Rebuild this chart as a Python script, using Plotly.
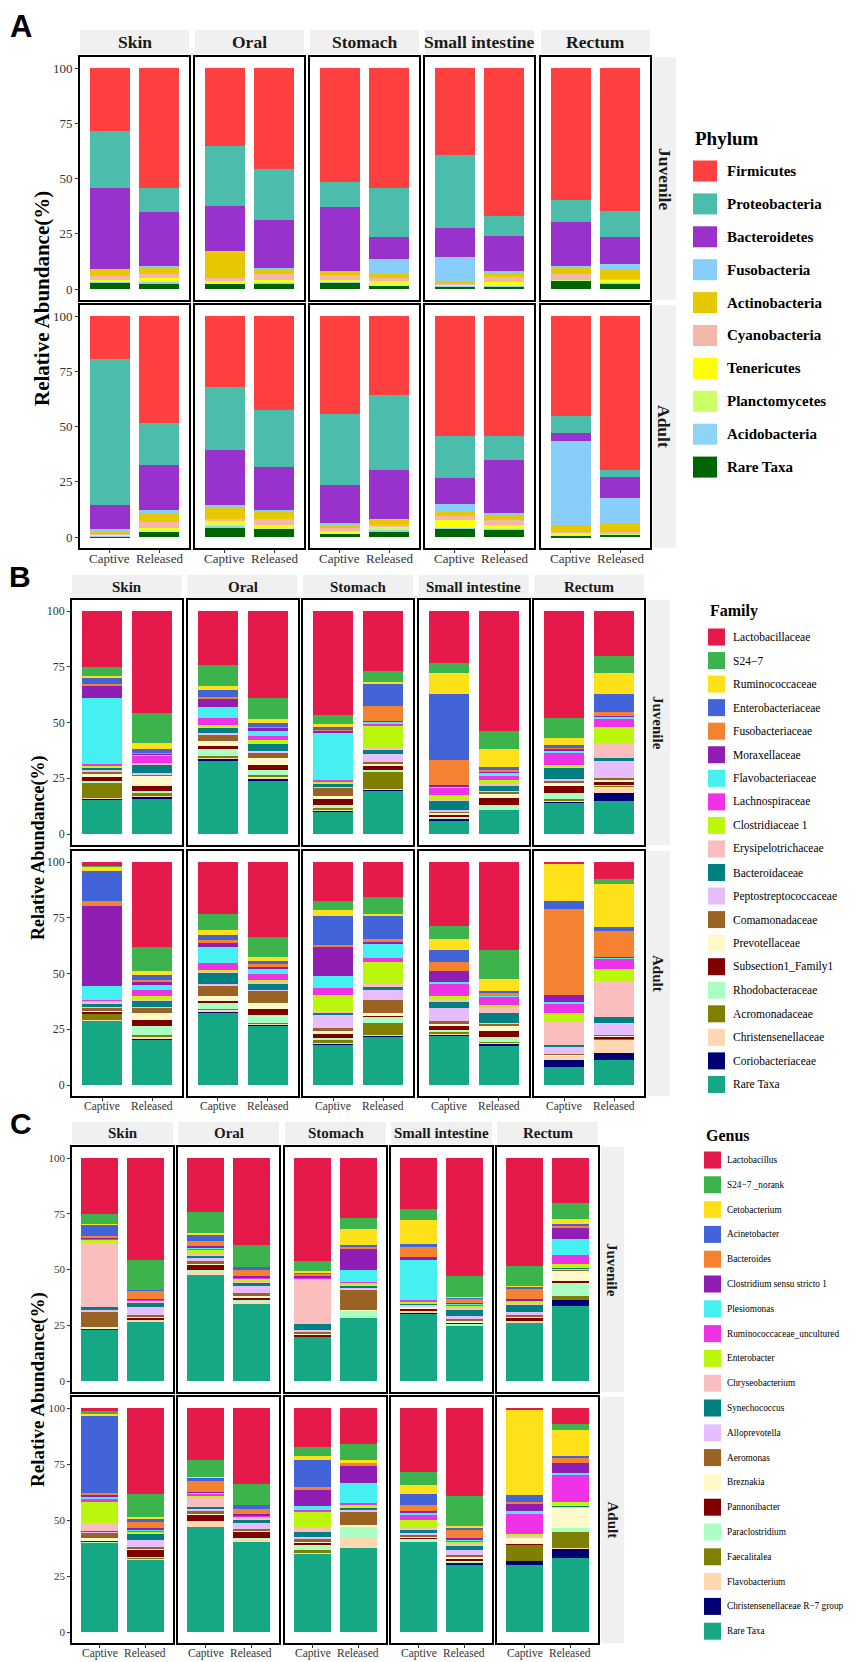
import plotly.graph_objects as go

# page geometry (the browser adds an 8 px body margin, the figure is shifted by it)
PAGE_W, PAGE_H = 854, 1662
OFF = 8
W, H = PAGE_W - OFF, PAGE_H - OFF
SERIF = "Liberation Serif, Times New Roman, serif"
SANS = "Liberation Sans, Arial, sans-serif"

organs = ["Skin", "Oral", "Stomach", "Small intestine", "Rectum"]
organ_keys = ["Skin", "Oral", "Stom", "SI", "Rect"]
groups = ["Captive", "Released"]
stages = ["Juvenile", "Adult"]
stage_keys = ["J", "A"]
y_ticks = [0, 25, 50, 75, 100]

# ---------------- Panel A : Phylum ----------------
phylum_taxa = ["Firmicutes", "Proteobacteria", "Bacteroidetes", "Fusobacteria", "Actinobacteria",
               "Cyanobacteria", "Tenericutes", "Planctomycetes", "Acidobacteria", "Rare Taxa"]
phylum_colors = ["#FF4040", "#4CBCAB", "#9932CC", "#87CEFA", "#E6C800",
                 "#F5B8A8", "#FFFF00", "#CCFF66", "#8FD3F7", "#006400"]

phy_J_Skin_C = [28.7, 25.5, 36.6, 0.3, 3.1, 1.8, 0.3, 0.4, 0.3, 3.0]
phy_J_Skin_R = [54.1, 11.1, 24.4, 0.3, 3.4, 1.9, 0.8, 0.6, 1.0, 2.4]
phy_J_Oral_C = [35.2, 27.3, 20.2, 0.1, 12.4, 1.3, 0.5, 0.3, 0.3, 2.4]
phy_J_Oral_R = [45.9, 22.9, 21.5, 0.2, 2.8, 2.5, 0.8, 0.5, 0.5, 2.4]
phy_J_Stom_C = [51.5, 11.3, 28.9, 0.0, 2.0, 2.3, 0.5, 0.3, 0.2, 3.0]
phy_J_Stom_R = [54.1, 22.3, 10.0, 7.0, 1.5, 1.5, 1.0, 0.9, 0.3, 1.4]
phy_J_SI_C = [39.5, 32.8, 13.1, 11.0, 1.3, 0.3, 0.5, 0.1, 0.2, 1.2]
phy_J_SI_R = [67.0, 9.0, 15.9, 0.4, 2.1, 2.6, 0.9, 0.5, 0.4, 1.2]
phy_J_Rect_C = [59.7, 10.0, 19.8, 0.3, 3.4, 2.5, 0.1, 0.3, 0.1, 3.8]
phy_J_Rect_R = [64.6, 12.0, 12.1, 2.7, 3.9, 0.5, 1.0, 0.4, 0.2, 2.6]
phy_A_Skin_C = [19.6, 65.8, 11.0, 1.4, 0.8, 0.2, 0.3, 0.4, 0.1, 0.4]
phy_A_Skin_R = [48.2, 19.4, 20.2, 1.2, 4.2, 2.6, 1.0, 0.5, 0.3, 2.4]
phy_A_Oral_C = [31.9, 28.9, 24.7, 0.9, 5.5, 0.6, 1.5, 0.8, 1.0, 4.2]
phy_A_Oral_R = [42.5, 25.9, 19.3, 0.3, 4.0, 2.5, 1.0, 0.5, 0.2, 3.8]
phy_A_Stom_C = [44.3, 32.1, 17.1, 1.3, 1.0, 1.5, 0.9, 0.1, 0.1, 1.6]
phy_A_Stom_R = [35.7, 33.9, 22.3, 0.3, 2.2, 1.2, 0.3, 1.1, 0.6, 2.4]
phy_A_SI_C = [54.5, 18.8, 11.6, 3.8, 2.0, 1.7, 3.4, 0.1, 0.1, 4.0]
phy_A_SI_R = [54.5, 10.6, 24.1, 0.7, 2.4, 2.2, 1.2, 0.4, 0.3, 3.6]
phy_A_Rect_C = [45.2, 7.6, 3.6, 38.2, 3.0, 0.5, 1.0, 0.2, 0.2, 0.5]
phy_A_Rect_R = [69.7, 3.3, 9.2, 11.4, 4.0, 0.7, 0.2, 0.2, 0.2, 1.1]

# ---------------- Panel B : Family ----------------
family_taxa = ["Lactobacillaceae", "S24\u22127", "Ruminococcaceae", "Enterobacteriaceae", "Fusobacteriaceae",
               "Moraxellaceae", "Flavobacteriaceae", "Lachnospiraceae", "Clostridiaceae 1", "Erysipelotrichaceae",
               "Bacteroidaceae", "Peptostreptococcaceae", "Comamonadaceae", "Prevotellaceae", "Subsection1_Family1",
               "Rhodobacteraceae", "Acromonadaceae", "Christensenellaceae", "Coriobacteriaceae", "Rare Taxa"]
palette20 = ["#E6194B", "#3CB44B", "#FFE119", "#4363D8", "#F58231",
             "#911EB4", "#46F0F0", "#F032E6", "#BCF60C", "#FABEBE",
             "#008080", "#E6BEFF", "#9A6324", "#FFFAC8", "#800000",
             "#AAFFC3", "#808000", "#FFD8B1", "#000075", "#16A884"]
family_colors = palette20

fam_J_Skin_C = [24.9, 4.1, 1.2, 2.6, 0.4, 5.9, 29.3, 1.1, 0.2, 0.6, 1.2, 0.6, 1.2, 0.8, 2.1, 0.5, 7.0, 0.5, 0.3, 15.5]
fam_J_Skin_R = [45.8, 13.3, 2.6, 1.9, 0.3, 0.3, 0.5, 3.4, 0.3, 0.5, 3.8, 0.5, 0.9, 4.3, 2.4, 1.0, 1.0, 0.5, 0.5, 16.2]
fam_J_Oral_C = [24.0, 9.5, 2.1, 3.1, 0.5, 3.8, 5.2, 3.0, 0.4, 0.4, 2.5, 0.6, 3.1, 2.4, 1.2, 3.3, 0.9, 0.3, 0.6, 33.1]
fam_J_Oral_R = [38.9, 9.5, 1.7, 1.8, 0.3, 1.7, 2.1, 1.9, 0.8, 0.7, 3.3, 0.5, 2.7, 3.3, 2.2, 2.0, 1.0, 0.8, 1.0, 23.8]
fam_J_Stom_C = [46.7, 4.0, 1.5, 1.0, 0.2, 1.5, 20.7, 1.0, 0.3, 0.4, 1.5, 0.4, 3.8, 1.5, 2.5, 1.5, 0.4, 0.4, 0.5, 10.2]
fam_J_Stom_R = [26.8, 4.9, 1.1, 9.7, 6.9, 0.3, 0.8, 0.8, 10.0, 0.6, 2.1, 3.6, 0.6, 1.2, 1.8, 1.0, 7.6, 0.3, 0.3, 19.6]
fam_J_SI_C = [23.1, 4.6, 9.3, 29.9, 11.2, 0.4, 1.0, 3.0, 2.1, 0.5, 4.2, 0.5, 0.5, 1.2, 1.0, 0.3, 0.2, 0.2, 0.5, 6.3]
fam_J_SI_R = [53.7, 8.3, 7.9, 1.5, 0.3, 0.8, 1.6, 1.6, 1.7, 0.6, 2.6, 0.4, 0.8, 1.9, 3.4, 1.5, 0.1, 0.2, 0.2, 10.9]
fam_J_Rect_C = [48.1, 9.0, 3.1, 1.2, 0.3, 0.8, 1.0, 5.6, 0.5, 1.0, 4.8, 1.0, 0.5, 1.5, 3.3, 2.7, 0.3, 0.5, 0.6, 14.2]
fam_J_Rect_R = [20.0, 7.7, 9.3, 8.2, 1.9, 0.3, 0.6, 3.9, 7.1, 6.7, 1.5, 7.9, 0.3, 1.5, 0.8, 0.5, 0.3, 3.2, 3.4, 14.9]
fam_A_Skin_C = [1.6, 0.2, 2.4, 13.5, 1.9, 36.2, 6.0, 0.3, 0.2, 1.3, 1.5, 0.3, 1.2, 0.3, 0.8, 0.3, 2.7, 0.1, 0.0, 29.2]
fam_A_Skin_R = [38.3, 10.4, 1.9, 2.2, 1.0, 1.3, 2.2, 3.0, 0.8, 1.2, 2.8, 0.3, 2.4, 3.0, 2.7, 4.0, 0.8, 0.6, 0.6, 20.5]
fam_A_Oral_C = [23.2, 7.5, 1.9, 2.6, 1.2, 1.5, 7.2, 3.3, 0.5, 1.0, 4.7, 0.5, 5.2, 2.0, 0.7, 3.0, 0.3, 0.5, 1.0, 32.2]
fam_A_Oral_R = [33.7, 8.7, 1.9, 1.5, 0.8, 1.5, 2.2, 2.5, 0.8, 1.0, 2.7, 0.3, 5.7, 2.7, 2.6, 3.4, 0.3, 0.3, 0.5, 26.9]
fam_A_Stom_C = [17.7, 4.0, 2.4, 13.0, 1.2, 13.0, 5.3, 3.0, 7.0, 1.0, 1.0, 5.7, 1.7, 1.0, 2.0, 1.0, 1.0, 0.3, 0.3, 18.4]
fam_A_Stom_R = [15.9, 7.3, 1.2, 10.2, 1.2, 0.6, 6.6, 1.9, 9.7, 1.5, 1.2, 4.8, 5.7, 0.8, 0.7, 2.7, 5.5, 0.3, 0.5, 21.7]
fam_A_SI_C = [28.6, 6.0, 4.8, 5.5, 3.8, 5.3, 0.6, 5.7, 0.8, 1.5, 3.0, 5.7, 1.2, 0.6, 2.2, 1.0, 0.6, 0.4, 0.5, 22.2]
fam_A_SI_R = [39.4, 13.1, 5.3, 1.0, 0.8, 0.3, 0.3, 3.9, 1.5, 2.2, 4.2, 0.3, 1.2, 2.5, 2.3, 2.2, 0.3, 0.4, 0.8, 18.0]
fam_A_Rect_C = [0.6, 0.2, 16.5, 3.7, 38.8, 2.9, 0.5, 4.7, 3.8, 10.4, 0.6, 3.5, 0.1, 0.2, 0.1, 0.1, 0.1, 1.9, 3.3, 8.0]
fam_A_Rect_R = [7.6, 2.2, 19.4, 1.8, 11.6, 0.2, 0.4, 4.6, 5.5, 16.4, 2.7, 5.2, 0.3, 0.4, 0.6, 0.2, 0.3, 6.1, 3.3, 11.2]

# ---------------- Panel C : Genus ----------------
genus_taxa = ["Lactobacillus", "S24\u22127 _norank", "Cetobacterium", "Acinetobacter", "Bacteroides",
              "Clostridium sensu stricto 1", "Plesiomonas", "Ruminococcaceae_uncultured", "Enterobacter",
              "Chryseobacterium", "Synechococcus", "Alloprevotella", "Aeromonas", "Breznakia", "Pannonibacter",
              "Paraclostridium", "Faecalitalea", "Flavobacterium", "Christensenellaceae R\u22127 group", "Rare Taxa"]
genus_colors = palette20

gen_J_Skin_C = [25.0, 4.5, 0.2, 5.2, 0.8, 0.3, 0.2, 0.5, 1.5, 28.4, 1.5, 1.1, 6.8, 0.3, 0.9, 0.0, 0.0, 0.0, 0.0, 22.8]
gen_J_Skin_R = [45.7, 13.4, 0.0, 0.3, 3.8, 0.2, 0.2, 0.3, 0.5, 0.5, 2.0, 3.5, 0.9, 0.3, 0.6, 0.3, 0.0, 0.6, 0.0, 26.9]
gen_J_Oral_C = [24.3, 9.4, 0.6, 3.0, 2.2, 0.4, 0.6, 0.5, 2.0, 0.6, 1.2, 1.4, 1.3, 0.3, 2.6, 0.3, 0.2, 1.5, 0.0, 47.6]
gen_J_Oral_R = [39.2, 9.8, 0.0, 1.4, 2.7, 0.3, 0.3, 0.2, 1.5, 0.3, 1.9, 3.0, 1.5, 0.3, 1.5, 0.3, 0.2, 0.6, 0.0, 35.0]
gen_J_Stom_C = [46.3, 4.4, 0.5, 0.4, 1.5, 0.3, 0.2, 0.2, 0.4, 20.4, 2.6, 1.0, 0.5, 0.4, 0.8, 0.1, 0.0, 0.1, 0.0, 19.9]
gen_J_Stom_R = [26.8, 5.2, 7.2, 0.2, 1.6, 9.4, 5.0, 0.5, 1.0, 0.3, 1.3, 0.6, 8.9, 0.2, 0.3, 2.9, 0.0, 0.2, 0.0, 28.4]
gen_J_SI_C = [22.8, 4.9, 10.8, 1.2, 4.5, 1.5, 18.2, 0.3, 0.8, 0.3, 0.3, 0.8, 0.3, 0.6, 0.8, 0.6, 0.2, 0.3, 0.3, 30.5]
gen_J_SI_R = [53.1, 9.3, 0.3, 0.3, 2.1, 0.3, 0.4, 0.4, 0.8, 0.7, 3.2, 1.5, 0.6, 0.6, 0.6, 0.3, 0.2, 0.2, 0.0, 25.1]
gen_J_Rect_C = [48.4, 8.9, 0.4, 0.9, 4.8, 0.4, 0.3, 0.4, 0.5, 0.6, 3.3, 1.6, 0.4, 0.4, 1.6, 0.3, 0.2, 0.4, 0.0, 26.2]
gen_J_Rect_R = [20.1, 7.2, 2.4, 0.3, 1.3, 5.2, 6.8, 4.4, 0.8, 0.5, 0.5, 0.6, 0.4, 4.5, 0.8, 6.3, 1.6, 0.0, 2.8, 33.5]
gen_A_Skin_C = [1.5, 1.0, 1.2, 34.1, 1.0, 1.0, 1.0, 1.0, 9.4, 3.6, 0.4, 0.3, 2.7, 0.8, 0.5, 0.3, 0.1, 0.2, 0.0, 39.9]
gen_A_Skin_R = [38.5, 10.0, 1.1, 1.1, 3.0, 0.5, 0.3, 0.4, 0.6, 0.5, 3.0, 2.9, 0.7, 0.5, 3.3, 0.4, 0.1, 1.0, 0.0, 32.1]
gen_A_Oral_C = [23.1, 7.5, 0.4, 1.8, 4.5, 0.3, 0.9, 0.3, 1.5, 3.7, 0.8, 0.7, 1.8, 0.2, 2.8, 0.2, 0.2, 2.3, 0.0, 47.0]
gen_A_Oral_R = [33.9, 9.4, 0.0, 1.9, 2.1, 0.4, 0.3, 0.3, 1.0, 0.3, 1.6, 3.0, 0.6, 0.3, 3.1, 0.3, 0.2, 0.6, 0.0, 40.7]
gen_A_Stom_C = [17.6, 4.0, 1.5, 12.0, 1.5, 7.1, 1.8, 0.8, 7.0, 1.9, 2.3, 1.0, 0.8, 0.8, 1.1, 2.2, 1.2, 0.3, 0.0, 35.1]
gen_A_Stom_R = [16.0, 7.4, 1.2, 0.0, 1.2, 7.8, 8.9, 0.4, 0.8, 1.0, 1.0, 0.5, 6.0, 0.4, 0.4, 4.5, 0.0, 5.2, 0.0, 37.3]
gen_A_SI_C = [28.7, 5.6, 4.1, 4.9, 2.7, 1.0, 0.5, 2.5, 3.7, 0.5, 1.8, 0.5, 0.6, 0.6, 1.0, 0.3, 0.2, 0.2, 0.3, 40.3]
gen_A_SI_R = [39.3, 13.4, 1.0, 0.3, 4.2, 0.5, 0.3, 0.7, 0.8, 0.7, 2.2, 2.3, 0.6, 1.1, 1.0, 0.3, 0.2, 0.2, 1.0, 29.9]
gen_A_Rect_C = [0.7, 0.1, 38.0, 3.2, 0.7, 3.1, 1.6, 9.0, 0.5, 0.3, 0.2, 0.2, 0.2, 2.9, 0.1, 0.2, 7.2, 0.0, 1.7, 30.1]
gen_A_Rect_R = [7.3, 2.7, 11.6, 0.3, 2.6, 4.3, 0.8, 12.4, 1.2, 0.3, 0.5, 0.3, 0.2, 9.0, 0.0, 1.9, 6.9, 0.3, 4.5, 32.9]

# ---------------- layout (pixel geometry, page coordinates) ----------------
panels = [
    dict(prefix="phy", taxa=phylum_taxa, colors=phylum_colors, letter="A", letter_xy=(21, 27), letter_size=31,
         col_x0=[80, 195, 310, 425, 541], col_w=109, rows=[(68, 289), (316, 537)],
         strip_y=(30, 54), strip_size=17.5, ytitle_xy=(42, 299), ytitle_size=21,
         xlab_size=13, ytick_size=13,
         legend=dict(title="Phylum", x=693, title_y=139, y0=171, step=32.9, bw=24, bh=21, tx=725,
                     title_size=19, size=15, bold=True)),
    dict(prefix="fam", taxa=family_taxa, colors=family_colors, letter="B", letter_xy=(20, 577), letter_size=30,
         col_x0=[72, 187.5, 303, 418.5, 534], col_w=110, rows=[(611, 834), (862, 1085)],
         strip_y=(575, 598), strip_size=15, ytitle_xy=(38, 848), ytitle_size=18,
         xlab_size=11.5, ytick_size=12,
         legend=dict(title="Family", x=708, title_y=611, y0=637, step=23.55, bw=17, bh=17, tx=731,
                     title_size=16, size=11.5, bold=False)),
    dict(prefix="gen", taxa=genus_taxa, colors=genus_colors, letter="C", letter_xy=(21, 1123), letter_size=30,
         col_x0=[72, 178, 285, 391, 497], col_w=101, rows=[(1158, 1381), (1408, 1632)],
         strip_y=(1122, 1144), strip_size=15, ytitle_xy=(38, 1390), ytitle_size=19,
         xlab_size=11.5, ytick_size=11,
         legend=dict(title="Genus", x=704, title_y=1135, y0=1160, step=24.8, bw=17, bh=17, tx=725,
                     title_size=16, size=9.3, bold=False)),
]

STRIP_FILL = "#F0F0F0"
fig = go.Figure()
layout = dict(width=W, height=H, margin=dict(l=0, r=0, t=0, b=0), barmode="stack",
              plot_bgcolor="white", paper_bgcolor="white", showlegend=False)
shapes, annotations = [], []


def fx(px):
    return (px - OFF) / W


def fy(py):
    return 1 - (py - OFF) / H


n = 0
for p in panels:
    for r, (y100, y0) in enumerate(p["rows"]):
        unit = (y0 - y100) / 100.0
        top, bot = y100 - 5 * unit, y0 + 5 * unit
        for c, okey in enumerate(organ_keys):
            n += 1
            xa = "x" if n == 1 else f"x{n}"
            ya = "y" if n == 1 else f"y{n}"
            cap = globals()[f"{p['prefix']}_{stage_keys[r]}_{okey}_C"]
            rel = globals()[f"{p['prefix']}_{stage_keys[r]}_{okey}_R"]
            # bottom of the stack first -> reverse legend order
            for i in reversed(range(len(p["taxa"]))):
                fig.add_trace(go.Bar(x=groups, y=[cap[i], rel[i]], width=0.8, name=p["taxa"][i],
                                     marker=dict(color=p["colors"][i], line=dict(width=0)),
                                     xaxis=xa, yaxis=ya, showlegend=False))
            x0 = p["col_x0"][c]
            x1 = x0 + p["col_w"]
            bottom_row = (r == 1)
            first_col = (c == 0)
            layout["xaxis" if n == 1 else f"xaxis{n}"] = dict(
                domain=[fx(x0), fx(x1)], anchor=ya, type="category", range=[-0.6, 1.6],
                showline=True, mirror=True, linecolor="black", linewidth=1.6,
                showgrid=False, zeroline=False, fixedrange=True,
                ticks="outside" if bottom_row else "", ticklen=3, tickcolor="#333333",
                showticklabels=False)
            layout["yaxis" if n == 1 else f"yaxis{n}"] = dict(
                domain=[fy(bot), fy(top)], anchor=xa, range=[-5, 105], tickvals=y_ticks,
                showline=True, mirror=True, linecolor="black", linewidth=1.6,
                showgrid=False, zeroline=False, fixedrange=True,
                ticks="outside" if first_col else "", ticklen=3, tickcolor="#333333",
                showticklabels=first_col, tickfont=dict(family=SERIF, size=p["ytick_size"], color="#333333"))
            if bottom_row:
                for gi, g in enumerate(groups):
                    annotations.append(dict(text=g, x=gi, y=fy(bot + 10), xref=xa, yref="paper",
                                            showarrow=False, xanchor="center", yanchor="middle",
                                            font=dict(family=SERIF, size=p["xlab_size"], color="#333333")))
            # top strips
            if r == 0:
                sy0, sy1 = p["strip_y"]
                shapes.append(dict(type="rect", xref="paper", yref="paper", x0=fx(x0), x1=fx(x1),
                                   y0=fy(sy1), y1=fy(sy0), fillcolor=STRIP_FILL, line=dict(width=0),
                                   layer="below"))
                annotations.append(dict(text=f"<b>{organs[c]}</b>", x=fx((x0 + x1) / 2), y=fy((sy0 + sy1) / 2),
                                        xref="paper", yref="paper", showarrow=False, xanchor="center",
                                        yanchor="middle", font=dict(family=SERIF, size=p["strip_size"],
                                                                    color="#1A1A1A")))
        # right strip
        xr = p["col_x0"][-1] + p["col_w"]
        shapes.append(dict(type="rect", xref="paper", yref="paper", x0=fx(xr + 3), x1=fx(xr + 26),
                           y0=fy(bot), y1=fy(top), fillcolor=STRIP_FILL, line=dict(width=0), layer="below"))
        annotations.append(dict(text=f"<b>{stages[r]}</b>", x=fx(xr + 14.5), y=fy((top + bot) / 2),
                                xref="paper", yref="paper", showarrow=False, textangle=90,
                                xanchor="center", yanchor="middle",
                                font=dict(family=SERIF, size=p["strip_size"], color="#1A1A1A")))
    # panel letter
    lx, ly = p["letter_xy"]
    annotations.append(dict(text=f"<b>{p['letter']}</b>", x=fx(lx), y=fy(ly), xref="paper", yref="paper",
                            showarrow=False, xanchor="center", yanchor="middle",
                            font=dict(family=SANS, size=p["letter_size"], color="black")))
    # y-axis title
    tx, ty = p["ytitle_xy"]
    annotations.append(dict(text="<b>Relative Abundance(%)</b>", x=fx(tx), y=fy(ty), xref="paper",
                            yref="paper", showarrow=False, textangle=-90, xanchor="center", yanchor="middle",
                            font=dict(family=SERIF, size=p["ytitle_size"], color="black")))
    # legend
    lg = p["legend"]
    annotations.append(dict(text=f"<b>{lg['title']}</b>", x=fx(lg["x"]), y=fy(lg["title_y"]), xref="paper",
                            yref="paper", showarrow=False, xanchor="left", yanchor="middle",
                            font=dict(family=SERIF, size=lg["title_size"], color="black")))
    for i, (name, col) in enumerate(zip(p["taxa"], p["colors"])):
        cy = lg["y0"] + i * lg["step"]
        shapes.append(dict(type="rect", xref="paper", yref="paper", x0=fx(lg["x"]), x1=fx(lg["x"] + lg["bw"]),
                           y0=fy(cy + lg["bh"] / 2), y1=fy(cy - lg["bh"] / 2), fillcolor=col,
                           line=dict(width=0)))
        label = f"<b>{name}</b>" if lg["bold"] else name
        annotations.append(dict(text=label, x=fx(lg["tx"]), y=fy(cy), xref="paper", yref="paper",
                                showarrow=False, xanchor="left", yanchor="middle",
                                font=dict(family=SERIF, size=lg["size"], color="black")))

layout["shapes"] = shapes
layout["annotations"] = annotations
fig.update_layout(**layout)
fig.write_html("out.html")
